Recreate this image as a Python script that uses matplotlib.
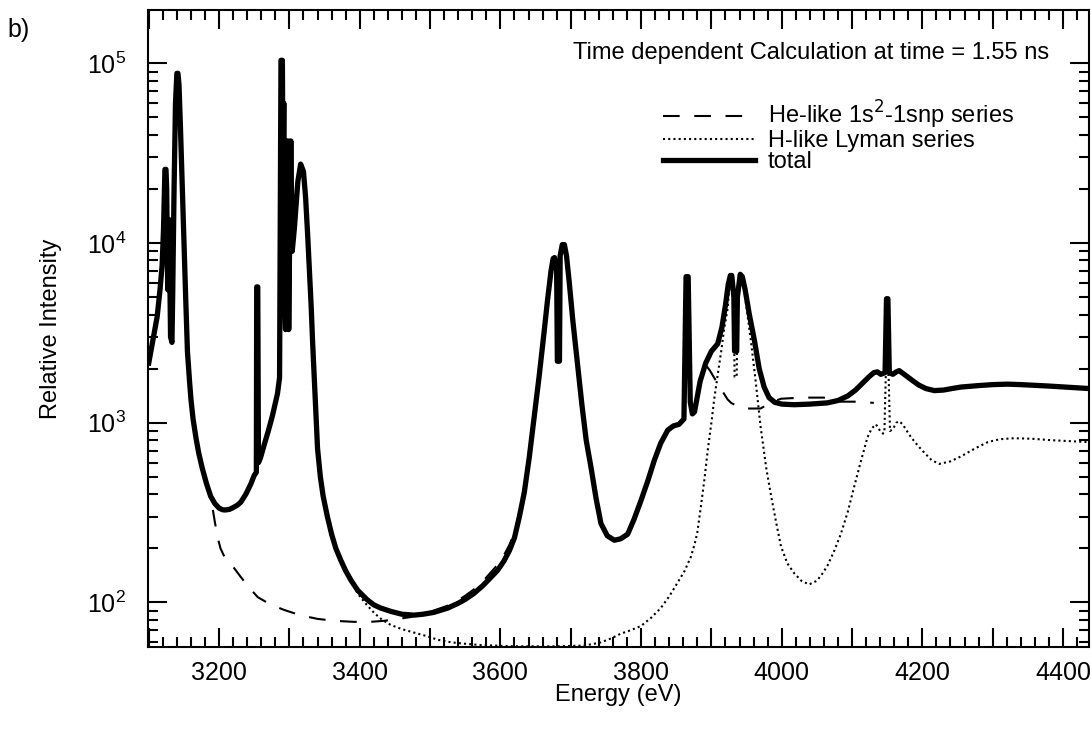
import matplotlib.pyplot as plt
from matplotlib.ticker import MultipleLocator, LogLocator, NullFormatter

plt.rcParams['font.family'] = ['Liberation Sans', 'DejaVu Sans']

# total spectrum (eV, relative intensity)
total_e = [3100, 3106, 3112, 3116, 3119, 3121, 3123, 3124.5, 3125.5, 3127, 3129, 3131,
           3133, 3134, 3136, 3138, 3140, 3141.5, 3143, 3145, 3147, 3150, 3152.5, 3155,
           3158, 3160, 3163, 3167, 3171, 3176, 3182, 3188, 3194, 3200, 3205, 3209,
           3215, 3220, 3226, 3231, 3238, 3245, 3250, 3253, 3253.5, 3255, 3256, 3259,
           3264, 3270, 3276, 3283, 3286, 3288, 3290, 3291, 3292, 3293, 3294.5, 3296,
           3298, 3299, 3300, 3302, 3304, 3307, 3312, 3316, 3320, 3323, 3326, 3328.5,
           3331, 3333, 3335, 3337.5, 3340, 3344, 3348, 3354, 3360, 3366, 3373, 3380,
           3388, 3397, 3410, 3420, 3430, 3445, 3460, 3477, 3490, 3505, 3525, 3540,
           3550, 3562, 3575, 3585, 3596, 3605, 3613, 3620, 3627, 3634, 3641, 3648,
           3655, 3662, 3667, 3672, 3675, 3677, 3680, 3681, 3684, 3685, 3688, 3691,
           3694, 3698, 3703, 3710, 3716, 3722, 3729, 3736, 3743, 3752, 3762, 3771,
           3781, 3790, 3800, 3810, 3819, 3828, 3838, 3846, 3854, 3861, 3864, 3867,
           3870, 3873, 3876, 3884, 3892, 3900, 3909, 3915, 3920, 3924, 3927, 3929,
           3932, 3933, 3936, 3937, 3941, 3944, 3948, 3954, 3961, 3968, 3975, 3982,
           3990, 4000, 4018, 4040, 4065, 4080, 4094, 4105, 4115, 4124, 4131, 4136,
           4141, 4147, 4149, 4151, 4153, 4158, 4163, 4167, 4175, 4184, 4195, 4205,
           4217, 4230, 4242, 4255, 4280, 4300, 4321, 4340, 4380, 4437]
total_i = [2150, 2900, 3900, 5500, 7500, 12000, 25700, 25700, 20000, 5500, 13500, 3000,
           2800, 5000, 20000, 60000, 88000, 88000, 76000, 45000, 25000, 10500, 5000, 2500,
           1700, 1350, 1050, 830, 680, 560, 460, 390, 355, 335, 328, 327,
           330, 337, 348, 362, 400, 455, 510, 530, 5700, 5700, 600, 640,
           750, 900, 1100, 1450, 1780, 104000, 104000, 20000, 60000, 5000, 3300, 37000,
           37000, 3300, 8000, 37000, 9000, 12000, 22000, 27500, 25000, 18000, 11000, 7000,
           4400, 2800, 1900, 1150, 720, 500, 390, 300, 240, 200, 172, 150,
           132, 117, 104, 97, 93, 89, 86, 85, 86, 88, 93, 99,
           104, 112, 124, 136, 151, 170, 195, 229, 300, 410, 640, 1070,
           1800, 3160, 4800, 7000, 8200, 8300, 7000, 2200, 2200, 8500, 9800, 9800,
           8500, 6000, 3700, 2050, 1250, 800, 560, 380, 275, 235, 222, 226,
           240, 290, 370, 480, 620, 770, 910, 960, 980, 1050, 6500, 6500,
           1300, 1120, 1150, 1700, 2150, 2500, 2750, 3400, 4500, 5900, 6600, 6600,
           5000, 2500, 2500, 5000, 6700, 6500, 5500, 4000, 2900, 2000, 1580, 1380,
           1300, 1270, 1260, 1270, 1290, 1330, 1410, 1520, 1660, 1800, 1900, 1920,
           1860, 1900, 4900, 4900, 1900, 1860, 1920, 1950, 1850, 1740, 1620, 1550,
           1510, 1520, 1550, 1580, 1610, 1630, 1640, 1630, 1600, 1550]

# He-like 1s2-1snp series
he_e = [3100, 3106, 3112, 3116, 3119, 3121, 3123, 3124.5, 3125.5, 3127, 3129, 3131,
        3133, 3134, 3136, 3138, 3140, 3141.5, 3143, 3145, 3147, 3150, 3152.5, 3155,
        3158, 3160, 3163, 3167, 3171, 3176, 3182, 3186, 3190, 3194, 3198, 3202,
        3208, 3215, 3221, 3230, 3242, 3255, 3272, 3292, 3315, 3340, 3365, 3392,
        3415, 3434, 3455, 3473, 3477, 3490, 3505, 3525, 3540, 3550, 3562, 3575,
        3585, 3596, 3605, 3613, 3620, 3627, 3634, 3641, 3648, 3655, 3662, 3667,
        3672, 3675, 3677, 3680, 3681, 3684, 3685, 3688, 3691, 3694, 3698, 3703,
        3710, 3716, 3722, 3729, 3736, 3743, 3752, 3762, 3771, 3781, 3790, 3800,
        3810, 3819, 3828, 3838, 3846, 3854, 3861, 3864, 3867, 3870, 3873, 3876,
        3884, 3892, 3898, 3904, 3911, 3918, 3923, 3928, 3940, 3951, 3970, 3985,
        3999, 4013, 4039, 4060, 4084, 4106, 4131]
he_i = [2150, 2900, 3900, 5500, 7500, 12000, 25700, 25700, 20000, 5500, 13500, 3000,
        2800, 5000, 20000, 60000, 88000, 88000, 76000, 45000, 25000, 10500, 5000, 2500,
        1700, 1350, 1050, 830, 680, 560, 460, 420, 350, 280, 230, 200,
        178, 165, 156, 140, 122, 107, 98, 91, 85, 81, 79, 78,
        78, 79, 81, 83, 85, 87, 90, 96, 103, 109, 118, 131,
        145, 162, 183, 210, 245, 320, 430, 660, 1080, 1800, 3160, 4800,
        7000, 8200, 8300, 7000, 2200, 2200, 8500, 9800, 9800, 8500, 6000, 3700,
        2050, 1250, 800, 560, 380, 275, 235, 222, 226, 240, 290, 370,
        480, 620, 770, 910, 960, 980, 1050, 6500, 6500, 1300, 1120, 1150,
        1700, 2100, 1950, 1780, 1600, 1450, 1350, 1290, 1220, 1200, 1200, 1300,
        1360, 1370, 1380, 1380, 1310, 1310, 1290]

# H-like Lyman series
h_e = [3200, 3205, 3209, 3215, 3220, 3226, 3231, 3238, 3245, 3250, 3256, 3259,
       3264, 3270, 3276, 3283, 3286, 3288, 3290, 3291, 3292, 3293, 3294.5, 3296,
       3298, 3299, 3300, 3302, 3304, 3307, 3312, 3316, 3320, 3323, 3326, 3328.5,
       3331, 3333, 3335, 3337.5, 3340, 3344, 3348, 3354, 3360, 3366, 3373, 3380,
       3388, 3397, 3410, 3421, 3432, 3444, 3460, 3477, 3495, 3511, 3530, 3548,
       3570, 3596, 3620, 3650, 3680, 3715, 3730, 3743, 3757, 3771, 3785, 3800,
       3814, 3828, 3840, 3852, 3862, 3871, 3876, 3880, 3885, 3890, 3895, 3900,
       3904, 3909, 3914, 3918, 3923, 3926, 3929, 3932, 3933, 3936, 3937, 3941,
       3944, 3948, 3952, 3956, 3963, 3970, 3978, 3985, 3992, 3999, 4008, 4018,
       4028, 4039, 4050, 4058, 4065, 4075, 4084, 4094, 4103, 4113, 4122, 4128,
       4134, 4140, 4144, 4146, 4148, 4152, 4154, 4158, 4163, 4167, 4172, 4178,
       4184, 4193, 4203, 4213, 4224, 4240, 4255, 4275, 4293, 4310, 4330, 4355,
       4383, 4410, 4437]
h_i = [335, 328, 327, 330, 337, 348, 362, 400, 455, 510, 600, 640,
       750, 900, 1100, 1450, 1780, 104000, 104000, 20000, 60000, 5000, 3300, 37000,
       37000, 3300, 8000, 37000, 9000, 12000, 22000, 27500, 25000, 18000, 11000, 7000,
       4400, 2800, 1900, 1150, 720, 500, 390, 300, 240, 200, 172, 150,
       132, 112, 97, 87, 80, 75, 71, 68, 65, 62, 60, 59,
       58, 57.5, 57, 57, 57, 57.5, 58.5, 60, 63, 67, 70, 74,
       82, 93, 108, 129, 150, 180, 210, 245, 340, 480, 710, 1000,
       1350, 1850, 2500, 3300, 4300, 5800, 6600, 4200, 1800, 1800, 4200, 6700,
       6500, 5000, 3800, 2900, 1700, 950, 560, 390, 280, 205, 165, 145,
       132, 126, 132, 145, 160, 195, 240, 320, 440, 620, 830, 930,
       980, 900, 870, 880, 1850, 1850, 900, 920, 1000, 1020, 980, 900,
       830, 750, 680, 620, 590, 610, 650, 720, 780, 810, 820, 815,
       800, 790, 780]

fig = plt.figure(figsize=(10.91, 7.32), dpi=100)
ax = fig.add_axes([0.1357, 0.1161, 0.8625, 0.8702])

ax.plot(he_e, he_i, color='black', lw=1.5, dashes=(8, 7), label='He-like 1s$^2$-1snp series')
ax.plot(h_e, h_i, color='black', lw=1.5, dashes=(1, 1.5), label='H-like Lyman series')
ax.plot(total_e, total_i, color='black', lw=3.8, label='total')

ax.set_yscale('log')
ax.set_xlim(3099, 4437)
ax.set_ylim(56.5, 1.98e5)

ax.xaxis.set_minor_locator(MultipleLocator(20))
ax.set_xticks(range(3100, 4437, 100))
ax.set_xticklabels(['' if v % 200 else str(v) for v in range(3100, 4437, 100)])
ax.yaxis.set_major_locator(LogLocator(base=10))
ax.yaxis.set_minor_locator(LogLocator(base=10, subs=range(2, 10)))
ax.yaxis.set_minor_formatter(NullFormatter())

ax.tick_params(which='both', direction='in', top=True, right=True, width=1.5, labelsize=18)
ax.tick_params(which='major', length=14)
ax.tick_params(which='minor', length=7.5)
ax.tick_params(axis='x', pad=10)
ax.tick_params(axis='y', pad=16)
for s in ax.spines.values():
    s.set_linewidth(1.5)

ax.set_xlabel('Energy (eV)', fontsize=17, labelpad=-1)
ax.set_ylabel('Relative Intensity', fontsize=17, labelpad=18)

ax.text(0.9575, 0.9325, 'Time dependent Calculation at time = 1.55 ns',
        transform=ax.transAxes, ha='right', va='center', fontsize=17)
ax.legend(loc='upper left', bbox_to_anchor=(0.547, 0.860), frameon=False,
          borderpad=0, borderaxespad=0, fontsize=17, handlelength=3.9,
          handletextpad=0.55, labelspacing=-0.05)

fig.text(0.007, 0.975, 'b)', fontsize=18, ha='left', va='top')

fig.savefig('out.png', dpi=100)
